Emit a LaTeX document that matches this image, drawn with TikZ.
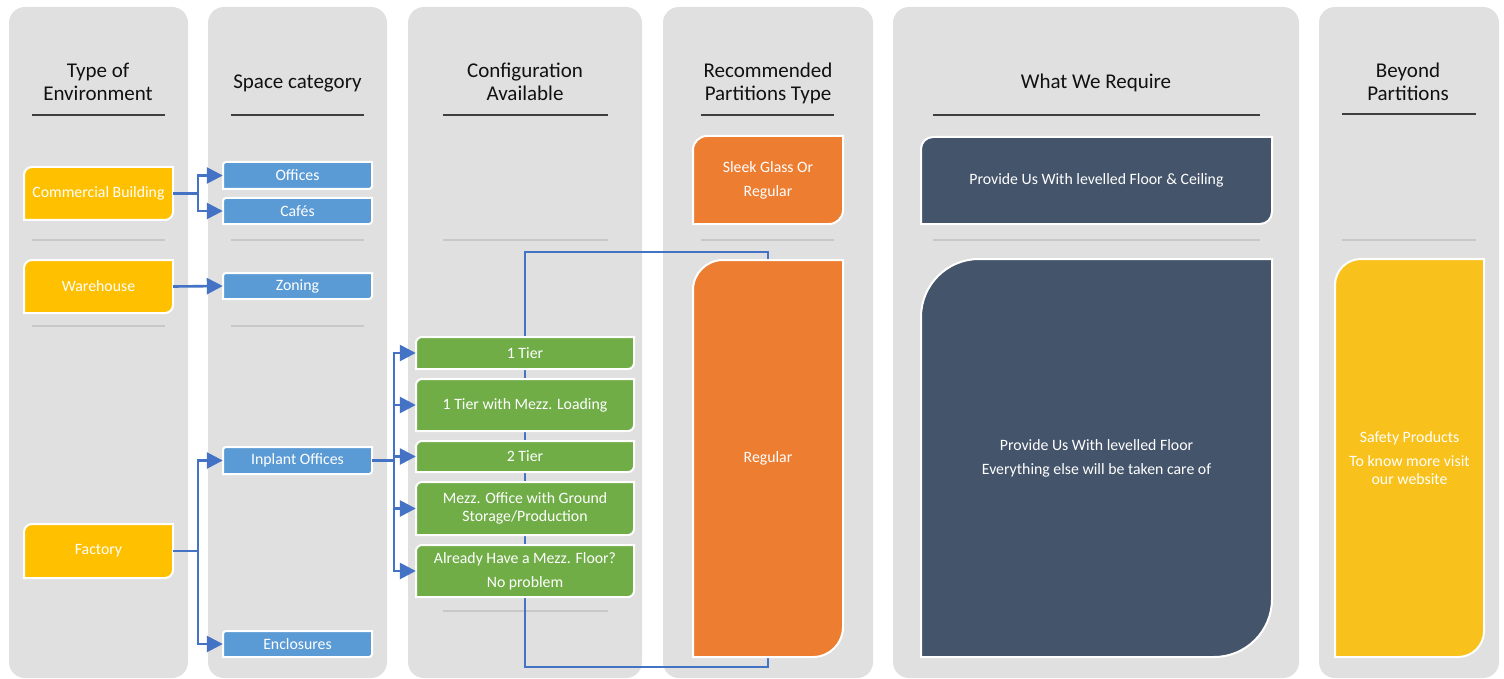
\documentclass[tikz,border=0pt]{standalone}
\usepackage{fontspec}
\setmainfont{Carlito}
\usetikzlibrary{arrows.meta}
\definecolor{colbg}{HTML}{E0E0E0}
\definecolor{sepcol}{HTML}{C8C8C8}
\definecolor{ulcol}{HTML}{3F3F3F}
\definecolor{hdrcol}{HTML}{111111}
\definecolor{yel}{HTML}{FFC000}
\definecolor{yel2}{HTML}{F8C11B}
\definecolor{blu}{HTML}{5B9BD5}
\definecolor{grn}{HTML}{70AD47}
\definecolor{org}{HTML}{ED7D31}
\definecolor{slate}{HTML}{44546A}
\definecolor{arrowblue}{HTML}{4472C4}
\pgfdeclarelayer{bg}
\pgfdeclarelayer{mid}
\pgfsetlayers{bg,mid,main}
\newcommand\dbox[8]{%
  \filldraw[fill=#7, draw=white, line width=2pt]
    (#4,#3) -- ({#2+#6},#3) arc[start angle=270,end angle=180,radius=#6]
    -- (#2,#5) -- ({#4-#6},#5) arc[start angle=90,end angle=0,radius=#6] -- cycle;
  \node[boxtext, minimum width={#4-#2}, minimum height={#5-#3}] (#1) at ({(#2+#4)/2},{(#3+#5)/2}) {#8};
}
\begin{document}
\begin{tikzpicture}[x=1pt,y=-1pt,
  hdr/.style={font=\fontsize{21}{23}\selectfont, align=center, text=hdrcol, inner sep=0pt},
  boxtext/.style={font=\fontsize{15.8}{18}\selectfont, text=white, align=center, inner sep=0pt, rectangle},
  colbox/.style={fill=colbg, rounded corners=16pt},
  uline/.style={draw=ulcol, line width=1.6pt},
  sepline/.style={draw=sepcol, line width=1.6pt},
  arr/.style={draw=arrowblue, line width=2.6pt, -{Triangle[length=16pt,width=16pt]}},
  conn/.style={draw=arrowblue, line width=2.6pt},
  thinline/.style={draw=arrowblue, line width=1.2pt}]
\useasboundingbox (0,0) rectangle (1504,679);

\begin{pgfonlayer}{bg}
  \fill[white] (0,0) rectangle (1504,679);
  \path[colbox] (9,7) rectangle (188,678);
  \path[colbox] (208,7) rectangle (387,678);
  \path[colbox] (408,7) rectangle (642,678);
  \path[colbox] (663,7) rectangle (873,678);
  \path[colbox] (893,7) rectangle (1299,678);
  \path[colbox] (1319,7) rectangle (1499,678);
  % underlines
  \draw[uline] (32,115) -- (165,115);
  \draw[uline] (231,115) -- (364,115);
  \draw[uline] (443,115) -- (608,115);
  \draw[uline] (701,115) -- (834,115);
  \draw[uline] (933,115) -- (1260,115);
  \draw[uline] (1342,114) -- (1476,114);
  % separators
  \draw[sepline] (32,240) -- (165,240);
  \draw[sepline] (231,240) -- (364,240);
  \draw[sepline] (443,240) -- (608,240);
  \draw[sepline] (701,240) -- (834,240);
  \draw[sepline] (933,240) -- (1260,240);
  \draw[sepline] (1342,240) -- (1476,240);
  \draw[sepline] (32,326) -- (165,326);
  \draw[sepline] (231,326) -- (364,326);
  \draw[sepline] (443,611) -- (608,611);
\end{pgfonlayer}

% headers
\node[hdr] (h1) at (98,81.5) {Type of\\Environment};
\node[hdr] (h2) at (297.5,83.5) {Space category};
\node[hdr] (h3) at (525,81.5) {Configuration\\Available};
\node[hdr] (h4) at (768,83.5) {Recommended\\Partitions Type};
\node[hdr] (h5) at (1096,82.5) {What We Require};
\node[hdr] (h6) at (1408,81.5) {Beyond\\Partitions};

% column 1
\dbox{cb}{24}{167}{173}{220}{8}{yel}{Commercial Building}
\dbox{wh}{24}{260}{173}{313}{8}{yel}{Warehouse}
\dbox{fa}{24}{524}{173}{578}{8}{yel}{Factory}
% column 2
\dbox{off}{223}{162}{372}{189}{3}{blu}{Offices}
\dbox{caf}{223}{198}{372}{224}{3}{blu}{Cafés}
\dbox{zon}{223}{273}{372}{299}{3}{blu}{Zoning}
\dbox{inp}{223}{447}{372}{474}{3}{blu}{Inplant Offices}
\dbox{enc}{223}{631}{372}{657}{3}{blu}{Enclosures}
% column 4
\dbox{o1}{693}{136}{843}{224}{14}{org}{Sleek Glass Or\\[6pt]Regular}
\dbox{o2}{693}{260}{843}{657}{30}{org}{Regular}

% thin connector behind the green boxes
\coordinate (t2) at (525,252);
\coordinate (b2) at (525,667);
\begin{pgfonlayer}{mid}
  \draw[thinline] (o2.north) |- (t2) -- (b2) -| (o2.south);
\end{pgfonlayer}

% column 3
\dbox{g1}{416}{337}{634}{369}{6}{grn}{1 Tier}
\dbox{g2}{416}{379}{634}{431}{6}{grn}{1 Tier with Mezz. Loading}
\dbox{g3}{416}{441}{634}{472}{6}{grn}{2 Tier}
\dbox{g4}{416}{482}{634}{535}{6}{grn}{Mezz. Office with Ground\\Storage/Production}
\dbox{g5}{416}{545}{634}{597}{6}{grn}{Already Have a Mezz. Floor?\\[6pt]No problem}
% column 5
\dbox{d1}{921}{137}{1272}{224}{12}{slate}{Provide Us With levelled Floor \& Ceiling}
\dbox{d2}{921}{259}{1272}{657}{58}{slate}{Provide Us With levelled Floor\\[6pt]Everything else will be taken care of}
% column 6
\dbox{y6}{1335}{259}{1484}{657}{26}{yel2}{Safety Products\\[6pt]To know more visit\\our website}

% connectors
\coordinate (j1) at (198,193.5);
\coordinate (j2) at (198,551);
\coordinate (j3) at (394,460.5);
\draw[conn] (cb.east) -- (j1);
\draw[arr] (j1) |- (off.west);
\draw[arr] (j1) |- (caf.west);
\draw[arr] (wh.east) -- (zon.west);
\draw[conn] (fa.east) -- (j2);
\draw[arr] (j2) |- (inp.west);
\draw[arr] (j2) |- (enc.west);
\draw[conn] (inp.east) -- (j3);
\draw[arr] (j3) |- (g1.west);
\draw[arr] (j3) |- (g2.west);
\draw[arr] (j3) |- (g3.west);
\draw[arr] (j3) |- (g4.west);
\draw[arr] (j3) |- (g5.west);
\end{tikzpicture}
\end{document}
